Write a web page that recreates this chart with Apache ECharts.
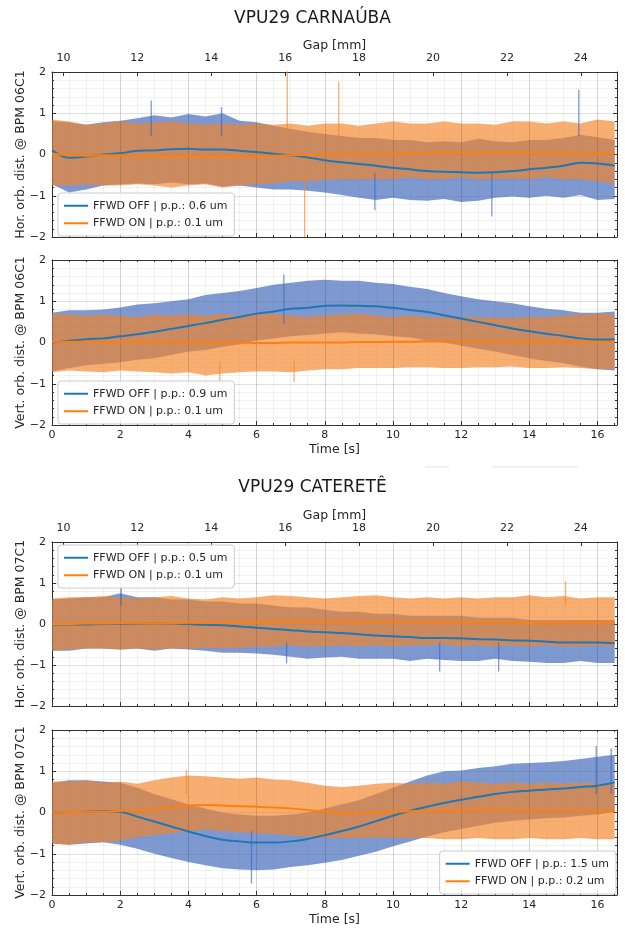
<!DOCTYPE html>
<html>
<head>
<meta charset="utf-8">
<script src="https://cdn.jsdelivr.net/npm/echarts@6/dist/echarts.min.js"></script>
<style>html,body{margin:0;padding:0;background:#fff}#c{width:625px;height:930px}</style>
</head>
<body>
<div id="c"></div>
<script>
// ---------- DATA ----------
const times = [0,0.5,1,1.5,2,2.5,3,3.5,4,4.5,5,5.5,6,6.5,7,7.5,8,8.5,9,9.5,10,10.5,11,11.5,12,12.5,13,13.5,14,14.5,15,15.5,16,16.5];
const timeMax = 16.57;
const gapMin = 9.69, gapMax = 24.98;
const gapTicks = [10,12,14,16,18,20,22,24];
const yTicksMin = -2, yTicksMax = 2;

const titles = ['VPU29 CARNAÚBA', 'VPU29 CATERETÊ'];
const yNames = ['Hor. orb. dist. @ BPM 06C1', 'Vert. orb. dist. @ BPM 06C1', 'Hor. orb. dist. @ BPM 07C1', 'Vert. orb. dist. @ BPM 07C1'];
const offNames = ['FFWD OFF | p.p.: 0.6 um', 'FFWD OFF | p.p.: 0.9 um', 'FFWD OFF | p.p.: 0.5 um', 'FFWD OFF | p.p.: 1.5 um'];
const onNames  = ['FFWD ON | p.p.: 0.1 um', 'FFWD ON | p.p.: 0.1 um', 'FFWD ON | p.p.: 0.1 um', 'FFWD ON | p.p.: 0.2 um'];

// Panel 1 : Hor 06C1
const p1OffMean = [0.10,-0.08,-0.05,0.00,0.03,0.09,0.10,0.13,0.14,0.12, 0.12,0.09,0.06,0.02,-0.02,-0.07,-0.14,-0.19,-0.23,-0.27, -0.32,-0.36,-0.40,-0.42,-0.43,-0.44,-0.43,-0.40,-0.36,-0.32, -0.27,-0.20,-0.22,-0.27];
const p1OnMean  = [0.02,-0.02,-0.03,-0.02,-0.02,-0.03,-0.03,-0.04,-0.04,-0.05, -0.04,-0.04,-0.04,-0.03,-0.02,-0.01,0.00,0.01,0.02,0.02, 0.02,0.03,0.04,0.04,0.05,0.05,0.04,0.04,0.05,0.05, 0.04,0.01,0.03,0.05];
const p1OffHi = [0.80,0.78,0.72,0.78,0.82,0.88,0.95,0.90,0.98,0.92, 1.00,0.82,0.78,0.70,0.62,0.55,0.50,0.45,0.40,0.40, 0.35,0.35,0.30,0.32,0.30,0.38,0.32,0.30,0.35,0.35, 0.40,0.48,0.42,0.35];
const p1OffLo = [-0.72,-0.92,-0.85,-0.75,-0.72,-0.70,-0.72,-0.68,-0.72,-0.70, -0.78,-0.75,-0.80,-0.85,-0.85,-0.88,-0.92,-0.98,-1.05,-1.10, -1.05,-1.10,-1.12,-1.08,-1.15,-1.12,-1.05,-1.02,-1.05,-1.00, -1.05,-0.98,-1.10,-1.08];
const p1OnHi = [0.85,0.80,0.72,0.75,0.80,0.75,0.78,0.80,0.75,0.72, 0.75,0.72,0.75,0.72,0.75,0.70,0.75,0.75,0.70,0.75, 0.80,0.75,0.75,0.80,0.75,0.75,0.72,0.80,0.80,0.75, 0.80,0.75,0.85,0.80];
const p1OnLo = [-0.75,-0.75,-0.72,-0.75,-0.75,-0.72,-0.75,-0.80,-0.75,-0.72, -0.80,-0.75,-0.72,-0.70,-0.65,-0.65,-0.62,-0.60,-0.60,-0.60, -0.60,-0.55,-0.60,-0.60,-0.55,-0.60,-0.60,-0.58,-0.60,-0.55, -0.60,-0.60,-0.65,-0.70];
const p1OffSpikes = [[2.91,1.31],[4.97,1.15],[9.47,-1.35],[12.9,-1.5],[15.45,1.57]];
const p1OnSpikes  = [[6.9,2.2],[7.41,-2.2],[8.41,1.77]];

// Panel 2 : Vert 06C1
const p2OffMean = [0.00,0.04,0.08,0.10,0.15,0.20,0.26,0.33,0.40,0.47, 0.55,0.62,0.70,0.75,0.82,0.84,0.89,0.90,0.89,0.88, 0.84,0.79,0.74,0.66,0.58,0.50,0.42,0.34,0.27,0.21, 0.16,0.10,0.07,0.08];
const p2OnMean  = [0.02,0.02,0.02,0.01,0.01,0.01,0.01,0.01,0.00,0.00, 0.00,0.00,-0.01,-0.01,0.00,0.00,0.00,0.00,0.01,0.01, 0.02,0.02,0.03,0.03,0.03,0.03,0.02,0.02,0.02,0.02, 0.02,0.02,0.01,0.01];
const p2OffHi = [0.72,0.78,0.78,0.80,0.85,0.92,0.95,1.00,1.05,1.15, 1.20,1.25,1.32,1.40,1.45,1.50,1.52,1.50,1.50,1.45, 1.42,1.35,1.30,1.20,1.12,1.05,1.00,0.95,0.88,0.82, 0.78,0.72,0.72,0.75];
const p2OffLo = [-0.70,-0.62,-0.55,-0.52,-0.48,-0.42,-0.38,-0.30,-0.22,-0.18, -0.10,-0.05,0.05,0.10,0.15,0.18,0.22,0.25,0.22,0.20, 0.15,0.12,0.05,0.00,-0.08,-0.15,-0.22,-0.30,-0.38,-0.45, -0.50,-0.58,-0.65,-0.68];
const p2OnHi = [0.70,0.68,0.65,0.68,0.65,0.62,0.68,0.65,0.68,0.65, 0.70,0.65,0.68,0.70,0.65,0.62,0.65,0.68,0.70,0.65, 0.62,0.65,0.62,0.60,0.62,0.62,0.60,0.60,0.62,0.62, 0.65,0.68,0.70,0.68];
const p2OnLo = [-0.72,-0.68,-0.70,-0.72,-0.68,-0.70,-0.72,-0.75,-0.72,-0.80, -0.75,-0.72,-0.70,-0.70,-0.72,-0.68,-0.65,-0.65,-0.62,-0.62, -0.62,-0.60,-0.60,-0.62,-0.62,-0.60,-0.60,-0.58,-0.62,-0.62, -0.60,-0.62,-0.65,-0.65];
const p2OffSpikes = [[6.8,1.65]];
const p2OnSpikes  = [[4.92,-0.95],[7.1,-0.95]];

// Panel 3 : Hor 07C1
const p3OffMean = [-0.01,-0.01,-0.01,0.00,0.00,0.01,0.02,0.01,0.00,-0.02, -0.03,-0.06,-0.09,-0.12,-0.15,-0.18,-0.20,-0.22,-0.25,-0.28, -0.30,-0.32,-0.34,-0.34,-0.35,-0.37,-0.38,-0.40,-0.41,-0.43, -0.45,-0.45,-0.45,-0.47];
const p3OnMean  = [0.00,0.00,0.01,0.01,0.02,0.02,0.02,0.02,0.03,0.03, 0.04,0.04,0.05,0.06,0.07,0.05,0.05,0.05,0.05,0.06, 0.05,0.05,0.04,0.04,0.03,0.03,0.03,0.03,0.02,0.02, 0.02,0.03,0.03,0.03];
const p3OffHi = [0.60,0.62,0.65,0.65,0.75,0.65,0.65,0.60,0.60,0.55, 0.55,0.50,0.50,0.45,0.40,0.40,0.35,0.30,0.30,0.25, 0.25,0.20,0.20,0.20,0.20,0.15,0.15,0.15,0.10,0.10, 0.10,0.10,0.10,0.10];
const p3OffLo = [-0.65,-0.65,-0.60,-0.60,-0.62,-0.60,-0.65,-0.60,-0.62,-0.65, -0.70,-0.70,-0.72,-0.75,-0.80,-0.85,-0.82,-0.80,-0.85,-0.85, -0.85,-0.90,-0.85,-0.88,-0.90,-0.90,-0.85,-0.90,-0.92,-0.95, -0.95,-0.90,-0.95,-0.95];
const p3OnHi = [0.62,0.65,0.65,0.68,0.65,0.62,0.65,0.68,0.62,0.60, 0.65,0.62,0.65,0.70,0.68,0.65,0.62,0.65,0.68,0.70, 0.65,0.62,0.65,0.62,0.65,0.62,0.65,0.65,0.70,0.65, 0.68,0.62,0.65,0.65];
const p3OnLo = [-0.65,-0.62,-0.60,-0.60,-0.62,-0.60,-0.62,-0.60,-0.60,-0.58, -0.60,-0.58,-0.55,-0.55,-0.52,-0.55,-0.55,-0.52,-0.55,-0.52, -0.55,-0.52,-0.52,-0.50,-0.55,-0.52,-0.55,-0.52,-0.55,-0.52, -0.55,-0.55,-0.52,-0.55];
const p3OffSpikes = [[2.03,0.93],[6.88,-0.96],[11.37,-1.16],[13.1,-1.16]];
const p3OnSpikes  = [[15.06,1.05]];

// Panel 4 : Vert 07C1
const p4OffMean = [0.00,0.01,0.02,0.03,0.02,-0.10,-0.22,-0.34,-0.46,-0.57, -0.66,-0.70,-0.73,-0.73,-0.70,-0.64,-0.55,-0.45,-0.34,-0.21, -0.08,0.04,0.14,0.23,0.31,0.38,0.45,0.50,0.53,0.56, 0.58,0.62,0.65,0.73];
const p4OnMean  = [0.00,0.01,0.02,0.02,0.04,0.05,0.08,0.13,0.17,0.18, 0.17,0.15,0.14,0.12,0.10,0.06,0.02,-0.01,-0.02,0.00, 0.02,0.03,0.04,0.05,0.05,0.06,0.07,0.06,0.05,0.05, 0.05,0.04,0.04,0.03];
const p4OffHi = [0.72,0.78,0.78,0.75,0.72,0.60,0.45,0.32,0.20,0.10, 0.00,-0.05,-0.08,-0.08,-0.05,0.00,0.10,0.20,0.30,0.45, 0.60,0.75,0.90,1.00,1.02,1.08,1.12,1.18,1.20,1.22, 1.25,1.30,1.35,1.40];
const p4OffLo = [-0.75,-0.78,-0.75,-0.72,-0.78,-0.88,-1.00,-1.10,-1.20,-1.28, -1.35,-1.38,-1.40,-1.38,-1.32,-1.28,-1.22,-1.15,-1.05,-0.95, -0.82,-0.70,-0.58,-0.48,-0.40,-0.32,-0.25,-0.20,-0.17,-0.14, -0.12,-0.08,-0.05,0.02];
const p4OnHi = [0.75,0.75,0.78,0.72,0.75,0.70,0.78,0.85,0.90,0.88, 0.85,0.82,0.85,0.80,0.78,0.72,0.65,0.62,0.65,0.70, 0.72,0.70,0.72,0.70,0.75,0.72,0.70,0.72,0.70,0.72, 0.70,0.72,0.70,0.68];
const p4OnLo = [-0.75,-0.78,-0.72,-0.72,-0.68,-0.60,-0.55,-0.50,-0.45,-0.42, -0.45,-0.48,-0.50,-0.52,-0.55,-0.58,-0.62,-0.62,-0.62,-0.60, -0.62,-0.62,-0.62,-0.65,-0.65,-0.62,-0.65,-0.65,-0.62,-0.65, -0.65,-0.62,-0.65,-0.65];
const p4OffSpikes = [[5.85,-1.72],[15.96,1.61],[16.4,1.55]];
const p4OnSpikes  = [[3.94,1.03]];

// ---------- STYLE ----------
const FONT = 'DejaVu Sans';
const C_OFF = '#1f77b4', C_ON = '#ff7f0e';
const BAND_OFF = 'rgba(65,105,185,0.68)';
const BAND_ON = 'rgba(245,130,35,0.65)';
const MAJOR = 'rgba(0,0,0,0.12)', MINOR = 'rgba(0,0,0,0.05)';
const AX = '#333333', TXT = '#262626';

const panels = [
  {off:[p1OffMean,p1OffHi,p1OffLo,p1OffSpikes], on:[p1OnMean,p1OnHi,p1OnLo,p1OnSpikes], top:72, h:165, gap:true, time:false, legend:{left:58, top:193}},
  {off:[p2OffMean,p2OffHi,p2OffLo,p2OffSpikes], on:[p2OnMean,p2OnHi,p2OnLo,p2OnSpikes], top:260, h:165, gap:false, time:true, legend:{left:58, top:381}},
  {off:[p3OffMean,p3OffHi,p3OffLo,p3OffSpikes], on:[p3OnMean,p3OnHi,p3OnLo,p3OnSpikes], top:542, h:164, gap:true, time:false, legend:{left:58, top:545}},
  {off:[p4OffMean,p4OffHi,p4OffLo,p4OffSpikes], on:[p4OnMean,p4OnHi,p4OnLo,p4OnSpikes], top:730, h:165, gap:false, time:true, legend:{right:9, top:851}}
];

const minus = v => (v < 0 ? '\u2212' + Math.abs(v) : String(v));

const grid = [], xAxis = [], yAxis = [], series = [], legend = [];

panels.forEach((p, g) => {
  grid.push({left: 52, right: 8, top: p.top, height: p.h, containLabel: false, outerBoundsMode: 'none'});

  const xMain = xAxis.length;
  xAxis.push({
    type: 'value', gridIndex: g, position: 'bottom', min: 0, max: timeMax, interval: 2, z: 3,
    axisLine: {show: true, onZero: false, lineStyle: {color: AX, width: 1}},
    axisTick: {show: true, inside: true, length: 4, lineStyle: {color: AX}},
    axisLabel: {show: p.time, showMaxLabel: false, color: TXT, fontSize: 11, fontFamily: FONT, margin: 5},
    splitLine: {show: true, lineStyle: {color: MAJOR, width: 1}},
    name: p.time ? 'Time [s]' : '', nameLocation: 'middle', nameGap: 18, nameMoveOverlap: false,
    nameTextStyle: {color: TXT, fontSize: 12.5, fontFamily: FONT}
  });
  xAxis.push({
    type: 'value', gridIndex: g, position: 'bottom', min: 0, max: timeMax, interval: 0.5, z: 1,
    axisLine: {show: false, onZero: false},
    axisTick: {show: true, inside: true, length: 2, lineStyle: {color: AX}},
    axisLabel: {show: false},
    splitLine: {show: true, lineStyle: {color: MINOR, width: 1}}
  });
  if (p.gap) {
    xAxis.push({
      type: 'value', gridIndex: g, position: 'top', min: gapMin, max: gapMax,
      axisLine: {show: true, onZero: false, lineStyle: {color: AX, width: 1}},
      axisTick: {show: true, inside: true, length: 4, customValues: gapTicks, lineStyle: {color: AX}},
      axisLabel: {show: true, customValues: gapTicks, color: TXT, fontSize: 11, fontFamily: FONT, margin: 8},
      splitLine: {show: false},
      name: 'Gap [mm]', nameLocation: 'middle', nameGap: 20, nameMoveOverlap: false,
      nameTextStyle: {color: TXT, fontSize: 12.5, fontFamily: FONT}
    });
  } else {
    xAxis.push({
      type: 'value', gridIndex: g, position: 'top', min: 0, max: timeMax, interval: 0.5,
      axisLine: {show: true, onZero: false, lineStyle: {color: AX, width: 1}},
      axisTick: {show: true, inside: true, length: 2, lineStyle: {color: AX}},
      axisLabel: {show: false},
      splitLine: {show: false}
    });
  }

  const yMain = yAxis.length;
  yAxis.push({
    type: 'value', gridIndex: g, position: 'left', min: yTicksMin, max: yTicksMax, interval: 1,
    axisLine: {show: true, onZero: false, lineStyle: {color: AX, width: 1}},
    axisTick: {show: true, inside: true, length: 4, lineStyle: {color: AX}},
    minorTick: {show: true, splitNumber: 5, length: 2, lineStyle: {color: AX}},
    axisLabel: {color: TXT, fontSize: 11, fontFamily: FONT, margin: 6, formatter: minus},
    splitLine: {show: true, lineStyle: {color: MAJOR, width: 1}},
    minorSplitLine: {show: true, lineStyle: {color: MINOR, width: 1}},
    name: yNames[g], nameLocation: 'middle', nameGap: 25, nameRotate: 90, nameMoveOverlap: false,
    nameTextStyle: {color: TXT, fontSize: 12.5, fontFamily: FONT}
  });
  yAxis.push({
    type: 'value', gridIndex: g, position: 'right', min: yTicksMin, max: yTicksMax, interval: 1,
    axisLine: {show: true, onZero: false, lineStyle: {color: AX, width: 1}},
    axisTick: {show: true, inside: true, length: 4, lineStyle: {color: AX}},
    minorTick: {show: true, splitNumber: 5, length: 2, lineStyle: {color: AX}},
    axisLabel: {show: false},
    splitLine: {show: false}
  });

  // noise envelope drawn as a polygon through the axis scales
  const addBand = (hi, lo, color, key) => {
    series.push({
      type: 'custom', name: 'band' + g + key, xAxisIndex: xMain, yAxisIndex: yMain, silent: true, z: 2,
      data: [[times[0], hi[0]]],
      encode: {x: 0, y: 1},
      renderItem: (params, api) => {
        const upper = times.map((t, i) => api.coord([t, hi[i]]));
        const lower = times.map((t, i) => api.coord([t, lo[i]])).reverse();
        const cs = params.coordSys;
        return {
          type: 'polygon',
          shape: {points: upper.concat(lower)},
          style: {fill: color},
          clipPath: {type: 'rect', shape: {x: cs.x, y: cs.y, width: cs.width, height: cs.height}}
        };
      }
    });
  };
  const addSpikes = (sp, color, key) => {
    sp.forEach((s, k) => {
      const base = s[1] < 0 ? -0.45 : 0.45;
      series.push({
        type: 'line', name: 'spike' + g + key + k, xAxisIndex: xMain, yAxisIndex: yMain,
        data: [[s[0], base], [s[0], s[1]]], symbol: 'none', silent: true,
        lineStyle: {color: color, width: 1.3}, z: 2
      });
    });
  };
  addBand(p.off[1], p.off[2], BAND_OFF, 'off');
  addSpikes(p.off[3], BAND_OFF, 'off');
  addBand(p.on[1], p.on[2], BAND_ON, 'on');
  addSpikes(p.on[3], BAND_ON, 'on');

  series.push({
    type: 'line', name: offNames[g], xAxisIndex: xMain, yAxisIndex: yMain,
    data: times.map((t, i) => [t, p.off[0][i]]), symbol: 'none', smooth: 0.3,
    lineStyle: {color: C_OFF, width: 2}, itemStyle: {color: C_OFF}, z: 3
  });
  series.push({
    type: 'line', name: onNames[g], xAxisIndex: xMain, yAxisIndex: yMain,
    data: times.map((t, i) => [t, p.on[0][i]]), symbol: 'none', smooth: 0.3,
    lineStyle: {color: C_ON, width: 2}, itemStyle: {color: C_ON}, z: 3
  });

  legend.push(Object.assign({
    orient: 'vertical', selectedMode: false,
    data: [{name: offNames[g], icon: 'rect'}, {name: onNames[g], icon: 'rect'}],
    itemWidth: 24, itemHeight: 2, itemGap: 4,
    textStyle: {fontSize: 11, fontFamily: FONT, color: TXT, lineHeight: 13.5},
    backgroundColor: 'rgba(255,255,255,0.85)', borderColor: '#cccccc', borderWidth: 1, borderRadius: 3,
    padding: [6, 7, 6, 6], z: 10
  }, p.legend));
});

const chart = echarts.init(document.getElementById('c'), null, {renderer: 'canvas'});
chart.setOption({
  animation: false,
  backgroundColor: '#ffffff',
  title: [
    {text: titles[0], left: 'center', top: 5, textStyle: {fontSize: 17, fontWeight: 'normal', fontFamily: FONT, color: '#1a1a1a'}},
    {text: titles[1], left: 'center', top: 474, textStyle: {fontSize: 17, fontWeight: 'normal', fontFamily: FONT, color: '#1a1a1a'}}
  ],
  grid, xAxis, yAxis, series, legend,
  graphic: [
    {type: 'line', shape: {x1: 425, y1: 467, x2: 449, y2: 467}, style: {stroke: '#e3e3e3', lineWidth: 1}},
    {type: 'line', shape: {x1: 492, y1: 467, x2: 578, y2: 467}, style: {stroke: '#e3e3e3', lineWidth: 1}}
  ]
});
</script>
</body>
</html>
